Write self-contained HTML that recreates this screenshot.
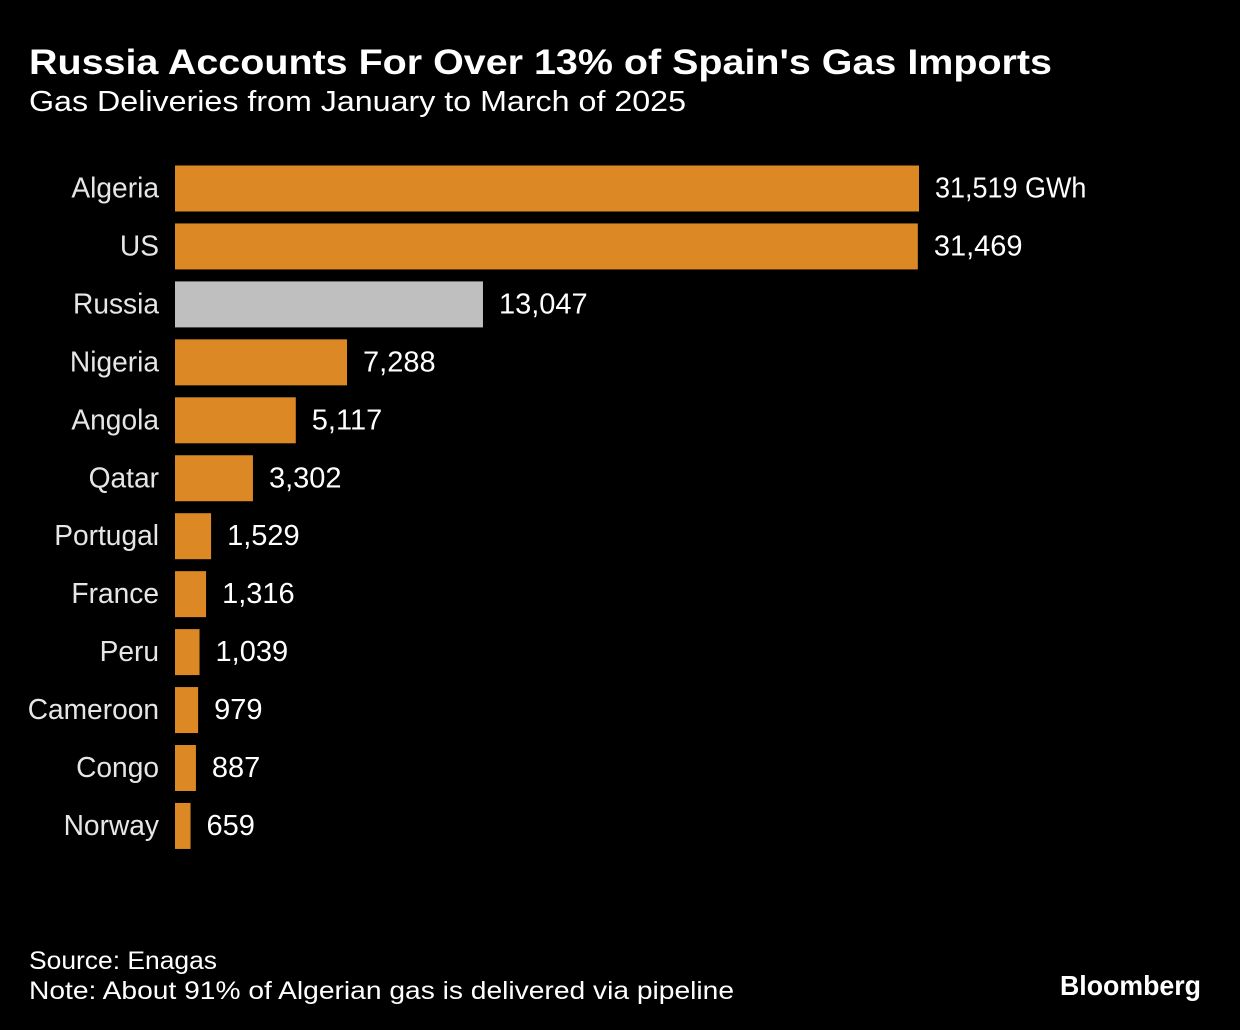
<!DOCTYPE html>
<html><head><meta charset="utf-8"><style>
html,body{margin:0;padding:0;background:#000;}
svg{display:block;font-family:"Liberation Sans Narrow","Liberation Sans",sans-serif;}
</style></head><body>
<svg id="chart" width="1240" height="1030" viewBox="0 0 1240 1030">
<rect width="1240" height="1030" fill="#000"/>
<text x="29" y="74" fill="#fff" font-size="35" font-weight="bold" textLength="1023" lengthAdjust="spacingAndGlyphs">Russia Accounts For Over 13% of Spain's Gas Imports</text>
<text x="29" y="111" fill="#fff" font-size="29" textLength="657" lengthAdjust="spacingAndGlyphs">Gas Deliveries from January to March of 2025</text>
<g id="bars"></g>
<text x="29" y="969" fill="#fff" font-size="25" textLength="188" lengthAdjust="spacingAndGlyphs">Source: Enagas</text>
<text x="29" y="999" fill="#fff" font-size="25" textLength="705" lengthAdjust="spacingAndGlyphs">Note: About 91% of Algerian gas is delivered via pipeline</text>
<text x="1060" y="995" fill="#fff" font-size="28" font-weight="bold" font-family="Liberation Sans, sans-serif" textLength="141" lengthAdjust="spacingAndGlyphs">Bloomberg</text>
</svg>
<script>
const categories = ["Algeria","US","Russia","Nigeria","Angola","Qatar","Portugal","France","Peru","Cameroon","Congo","Norway"];
const values = [31519,31469,13047,7288,5117,3302,1529,1316,1039,979,887,659];
const highlight = ["Russia"];
const ns = "http://www.w3.org/2000/svg";
const g = document.getElementById('bars');
const x0 = 175, xMax = 31519, wMax = 744;
const xScale = v => v / xMax * wMax;
const yTop = 165.5, pitch = 57.95, barH = 46;
const yScale = i => yTop + i * pitch;
function squeeze(t, f) {
  const len = t.getComputedTextLength();
  if (len > 0) {
    t.setAttribute('textLength', (len * f).toFixed(1));
    t.setAttribute('lengthAdjust', 'spacingAndGlyphs');
  }
}
categories.forEach((c, i) => {
  const y = yScale(i);
  const w = xScale(values[i]);
  const r = document.createElementNS(ns, 'rect');
  r.setAttribute('x', x0); r.setAttribute('y', y);
  r.setAttribute('width', w); r.setAttribute('height', barH);
  r.setAttribute('fill', highlight.includes(c) ? '#bfbfbf' : '#dc8824');
  
  
  g.appendChild(r);
  const l = document.createElementNS(ns, 'text');
  l.setAttribute('x', 159); l.setAttribute('y', y + 32);
  l.setAttribute('text-anchor', 'end'); l.setAttribute('fill', '#e6e6e6');
  l.setAttribute('font-size', '29');
  l.textContent = c;
  
  
  g.appendChild(l);
  squeeze(l, 0.97);
  const v = document.createElementNS(ns, 'text');
  v.setAttribute('x', x0 + w + 16); v.setAttribute('y', y + 32);
  v.setAttribute('fill', '#fff'); v.setAttribute('font-size', '29');
  v.textContent = values[i].toLocaleString('en-US') + (i === 0 ? ' GWh' : '');
  
  
  g.appendChild(v);
  if (i === 0) squeeze(v, 0.93);
});
</script>
</body></html>
